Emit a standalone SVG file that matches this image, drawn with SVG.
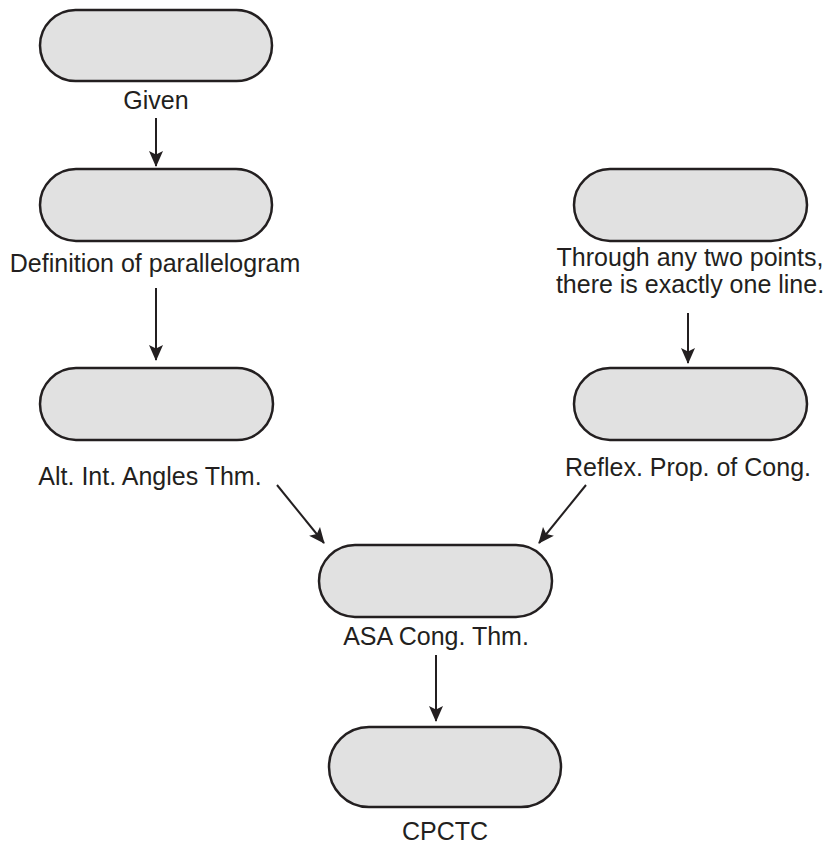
<svg xmlns="http://www.w3.org/2000/svg" width="825" height="844" viewBox="0 0 825 844">
<style>
.n{fill:#e1e1e1;stroke:#231f20;stroke-width:2.5}
.t{font-family:"Liberation Sans",Arial,sans-serif;font-size:25px;fill:#231f20;text-anchor:middle}
.c{stroke:#231f20;stroke-width:2;fill:none;marker-end:url(#ah)}
</style>
<defs>
<marker id="ah" markerWidth="16" markerHeight="16" viewBox="0 0 16 16" refX="15" refY="8" orient="auto" markerUnits="userSpaceOnUse">
<path d="M0,1 L16,8 L0,15 L3.5,8 Z" fill="#231f20"/>
</marker>
</defs>
<rect width="825" height="844" fill="#fff"/>
<g id="given"><rect class="n" x="40" y="10" width="232" height="71" rx="35.5"/><text class="t" x="156" y="109">Given</text></g>
<g id="def"><rect class="n" x="40" y="169" width="232" height="72" rx="36"/><text class="t" x="155" y="272">Definition of parallelogram</text></g>
<g id="alt"><rect class="n" x="40" y="368" width="233" height="72" rx="36"/><text class="t" x="150" y="485">Alt. Int. Angles Thm.</text></g>
<g id="through"><rect class="n" x="574" y="169" width="233" height="72" rx="36"/><text class="t" x="690" y="266">Through any two points,</text><text class="t" x="690" y="293">there is exactly one line.</text></g>
<g id="reflex"><rect class="n" x="574" y="368" width="233" height="72" rx="36"/><text class="t" x="688" y="476">Reflex. Prop. of Cong.</text></g>
<g id="asa"><rect class="n" x="319" y="545" width="233" height="72" rx="36"/><text class="t" x="436" y="645">ASA Cong. Thm.</text></g>
<g id="cpctc"><rect class="n" x="329" y="727" width="232" height="80" rx="40"/><text class="t" x="445" y="840">CPCTC</text></g>
<g id="connectors">
<line class="c" x1="156" y1="118" x2="156" y2="166"/>
<line class="c" x1="156" y1="288" x2="156" y2="360"/>
<line class="c" x1="688" y1="313" x2="688" y2="363"/>
<line class="c" x1="277" y1="485" x2="324" y2="543"/>
<line class="c" x1="586" y1="485" x2="539" y2="543"/>
<line class="c" x1="436" y1="655" x2="436" y2="721"/>
</g>
</svg>
